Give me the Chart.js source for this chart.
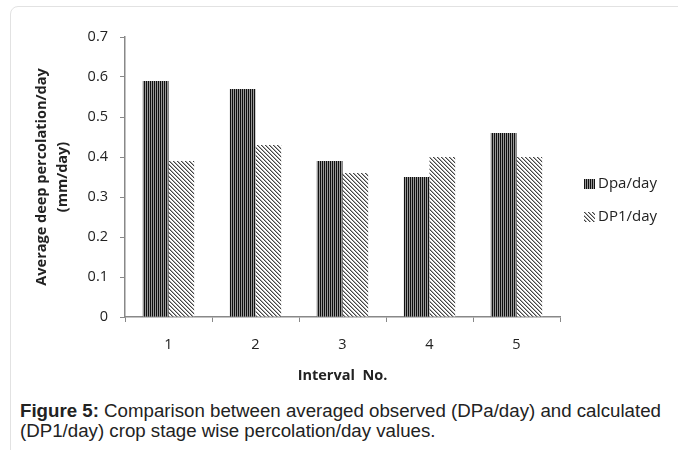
<!DOCTYPE html>
<html>
<head>
<meta charset="utf-8">
<script src="https://cdn.jsdelivr.net/npm/chart.js@4"></script>
<style>
  body { margin: 0; background: #fff; }
  #wrap { position: relative; width: 678px; height: 450px; overflow: hidden; }
  #frame { position: absolute; left: 10px; top: 6px; width: 720px; height: 520px;
           border: 1.5px solid #e2e2e2; border-radius: 8px; box-sizing: border-box; }
  #box { position: absolute; left: 0; top: 0; width: 678px; height: 395px; }
  #caption { position: absolute; left: 20px; top: 401px; width: 656px; white-space: nowrap;
             font: 18.7px "Liberation Sans", Arial, sans-serif;
             color: #222; line-height: 20px; }
</style>
</head>
<body>
<div id="wrap">
  <div id="frame"></div>
  <div id="box"><canvas id="percChart"></canvas></div>
  <div id="caption"><b>Figure 5:</b> Comparison between averaged observed (DPa/day) and calculated<br>(DP1/day) crop stage wise percolation/day values.</div>
</div>
<script>
const intervals = ['1', '2', '3', '4', '5'];
const dpaDay = [0.59, 0.57, 0.39, 0.35, 0.46];
const dp1Day = [0.39, 0.43, 0.36, 0.40, 0.40];

// hatch fills like the excel patterns
function vertPattern() {
  const c = document.createElement('canvas');
  c.width = 2; c.height = 2;
  const g = c.getContext('2d');
  g.fillStyle = '#999';
  g.fillRect(0, 0, 2, 2);
  g.fillStyle = '#111';
  g.fillRect(0, 0, 1, 2);
  return g.createPattern(c, 'repeat');
}
function diagPattern() {
  const c = document.createElement('canvas');
  c.width = 4; c.height = 4;
  const g = c.getContext('2d');
  g.fillStyle = '#fff';
  g.fillRect(0, 0, 4, 4);
  g.fillStyle = '#444';
  for (let i = 0; i < 4; i++) g.fillRect(i, i, 1, 1);
  g.fillStyle = '#aaa';
  for (let i = 0; i < 4; i++) g.fillRect((i + 1) % 4, i, 1, 1);
  return g.createPattern(c, 'repeat');
}

const ctx = document.getElementById('percChart');
const font = '"Open Sans", sans-serif';

const PercChart = new Chart(ctx, {
  type: 'bar',
  data: {
    labels: intervals,
    datasets: [{
      label: 'Dpa/day',
      data: dpaDay,
      backgroundColor: vertPattern(),
      borderWidth: 0
    },
    {
      label: 'DP1/day',
      data: dp1Day,
      backgroundColor: diagPattern(),
      borderWidth: 0
    }]
  },
  plugins: [{
    id: 'sideLegend',
    afterDraw: (chart) => {
      const { ctx } = chart;
      ctx.save();
      ctx.font = '15px ' + font;
      ctx.textBaseline = 'middle';
      chart.data.datasets.forEach((ds, i) => {
        const y = 184 + i * 33;
        ctx.fillStyle = ds.backgroundColor;
        ctx.fillRect(584, y - 5, 11, 10);
        ctx.fillStyle = '#222';
        ctx.fillText(ds.label, 598, y);
      });
      ctx.restore();
    }
  }],
  options: {
    responsive: true,
    maintainAspectRatio: false,
    animation: false,
    layout: {
      padding: { top: 37, right: 118, left: 0, bottom: 0 }
    },
    plugins: {
      legend: { display: false },
      tooltip: { enabled: false }
    },
    datasets: {
      bar: {
        categoryPercentage: 0.59,
        barPercentage: 1
      }
    },
    scales: {
      x: {
        afterFit: (scale) => { scale.height = 78; },
        grid: {
          drawOnChartArea: false,
          drawTicks: true,
          tickLength: 5,
          color: '#888'
        },
        border: { color: '#888', width: 1.5 },
        ticks: {
          color: '#222',
          padding: 14,
          font: { family: font, size: 14.5 }
        },
        title: {
          display: true,
          text: 'Interval  No.',
          color: '#222',
          padding: { top: 0, bottom: 10 },
          font: { family: font, size: 14.5, weight: 'bold' }
        }
      },
      y: {
        min: 0,
        max: 0.7,
        afterFit: (scale) => { scale.width = 125; },
        ticks: {
          stepSize: 0.1,
          color: '#222',
          padding: 12,
          font: { family: font, size: 14.5 }
        },
        grid: {
          drawOnChartArea: false,
          drawTicks: true,
          tickLength: 5,
          color: '#888'
        },
        border: { color: '#888', width: 1.5 },
        title: {
          display: true,
          text: ['Average deep percolation/day', '(mm/day)'],
          color: '#222',
          padding: { top: 31, bottom: 0 },
          font: { family: font, size: 14.5, weight: 'bold', lineHeight: 1.45 }
        }
      }
    }
  }
});
</script>
</body>
</html>
